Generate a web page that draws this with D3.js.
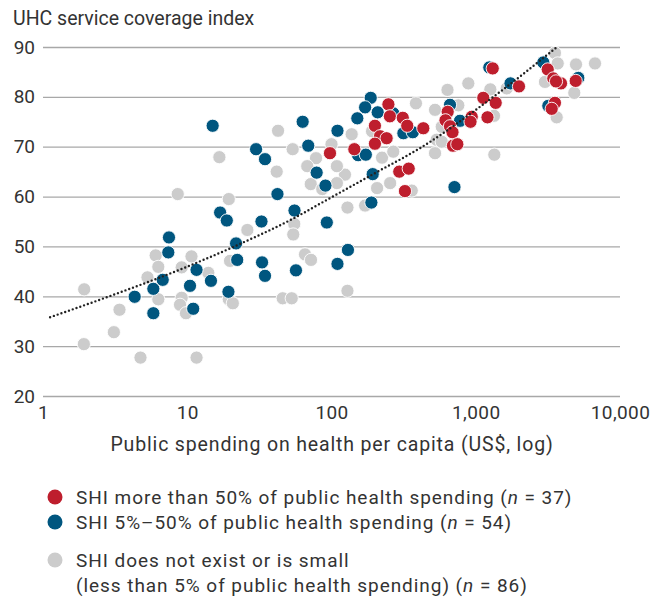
<!DOCTYPE html>
<html>
<head>
<meta charset="utf-8">
<script src="https://cdn.jsdelivr.net/npm/d3@7"></script>
<style>
  html, body { margin: 0; padding: 0; background: #fff; }
  svg text { font-family: Roboto, "Noto Sans", sans-serif; fill: #333; }
</style>
</head>
<body>
<svg id="chart" width="654" height="598"></svg>
<script>
// ---- data (US$ public health spending per capita, UHC index) ----
const greyPoints = [
  [1.93,41.4],[1.92,30.4],[3.39,37.3],[3.10,32.8],[4.74,27.7],[8.59,60.5],[6.04,48.2],[6.30,45.9],
  [5.30,43.8],[6.30,39.4],[9.15,45.8],[10.7,48.0],[9.15,39.7],[8.91,38.3],[9.8,36.6],[11.6,27.7],
  [14.0,44.7],[19.4,59.5],[16.7,67.9],[19.8,47.1],[26.1,53.3],[19.4,39.4],[20.7,38.6],[45.9,39.6],
  [53.0,39.6],[55.2,54.5],[54.3,52.4],[65.5,48.4],[72.1,47.3],[42.6,73.2],[53.8,69.5],[41.7,65.0],
  [78.1,67.7],[67.9,66.1],[71.8,62.5],[86.3,61.5],[124,64.4],[109,62.7],[129,57.8],[171,58.2],
  [207,61.7],[255,62.7],[129,41.1],[360,61.2],[100,70.5],[109,66.1],[138,72.5],[224,67.8],
  [268,69.0],[385,78.7],[191,73.1],[522,77.4],[757,78.3],[637,81.4],[888,82.7],[1262,81.5],
  [1639,81.7],[581,74.0],[536,71.4],[581,71.0],[522,68.7],[1345,68.4],[1338,76.2],[3540,88.8],
  [3700,86.7],[4955,86.5],[6710,86.7],[3020,83.0],[4820,80.8],[3640,75.9]
];
const bluePoints = [
  [4.32,39.9],[5.82,41.5],[5.82,36.6],[6.76,43.3],[7.39,48.8],[7.47,51.8],[10.45,42.1],[11.6,45.3],
  [11.0,37.5],[14.6,43.1],[16.9,56.8],[18.8,55.2],[19.3,40.9],[21.8,50.6],[22.2,47.3],[32.7,55.0],
  [33.0,46.8],[34.6,44.1],[42.2,60.5],[55.4,57.2],[56.7,45.2],[92.8,54.8],[15.0,74.2],[30.0,69.5],
  [34.6,67.5],[63.1,75.0],[69.0,70.2],[78.9,64.8],[90.8,62.2],[130,49.3],[110,46.5],[193,64.5],
  [189,58.8],[712,61.9],[187,79.8],[171,77.9],[209,76.9],[151,75.7],[268,76.7],[110,73.2],
  [315,72.7],[366,72.9],[153,68.3],[173,68.4],[663,78.4],[778,75.2],[1242,85.9],[1741,82.7],
  [2940,86.9],[5140,83.8],[3185,78.2]
];
const redPoints = [
  [97.6,68.7],[144,69.5],[248,78.5],[254,76.1],[312,75.8],[335,74.2],[200,74.2],[217,72.1],
  [241,71.7],[200,70.6],[295,65.0],[343,65.6],[323,61.1],[433,73.7],[639,77.0],[617,75.3],
  [663,74.1],[690,72.9],[695,70.2],[745,70.5],[938,76.0],[920,75.0],[1128,79.8],[1375,78.8],
  [1206,75.9],[1311,85.7],[1994,82.1],[3155,85.5],[3449,83.7],[3900,82.7],[4930,83.2],[3540,78.8],
  [3362,77.6],[3600,83.1]
];
const trendSpending = [1.12, 2.76, 9.9, 23.2, 54.3, 95, 206, 410, 1324, 3700];
const trendIndex    = [35.8, 39.8, 45.9, 50.5, 55.6, 59.5, 64.9, 69.7, 80.0, 90.1];
const xTicks = [1, 10, 100, 1000, 10000];
const yTicks = [20, 30, 40, 50, 60, 70, 80, 90];
const legendItems = [
  { color: "#be1e2d", lines: [["SHI more than 50% of public health spending (", "n", " = 37)"]] },
  { color: "#00567f", lines: [["SHI 5%\u201350% of public health spending (", "n", " = 54)"]] },
  { color: "#cccccc", lines: [["SHI does not exist or is small"], ["(less than 5% of public health spending) (", "n", " = 86)"]] }
];

// ---- chart ----
const svg = d3.select("#chart");
const x = d3.scaleLog().domain([1, 10000]).range([43, 620]);
const y = d3.scaleLinear().domain([20, 90]).range([396, 47]);

svg.append("text").attr("x", 13).attr("y", 25).attr("font-size", 19.5)
  .text("UHC service coverage index");

// y grid + labels
const yAxis = d3.axisLeft(y).tickValues(yTicks).tickSize(-(620 - 43)).tickFormat(d3.format("d")).tickPadding(8);
const gy = svg.append("g").attr("transform", "translate(43,0)").call(yAxis);
gy.select(".domain").remove();
gy.selectAll(".tick line").attr("stroke", "#a8a8a8").attr("stroke-width", 1.3);
gy.selectAll(".tick text").attr("font-size", 19).attr("fill", "#333").attr("x", -8);

// x labels
const xAxis = d3.axisBottom(x).tickValues(xTicks).tickSize(0).tickPadding(8)
  .tickFormat(d => d3.format(",")(d));
const gx = svg.append("g").attr("transform", "translate(0,398)").call(xAxis);
gx.select(".domain").remove();
gx.selectAll(".tick text").attr("font-size", 19).attr("fill", "#333").attr("letter-spacing", 0.4);

svg.append("text").attr("x", 332).attr("y", 451).attr("text-anchor", "middle")
  .attr("font-size", 19.5).attr("letter-spacing", 0.85)
  .text("Public spending on health per capita (US$, log)");

// points
function drawPts(data, color) {
  svg.append("g").selectAll("circle").data(data).join("circle")
    .attr("cx", d => x(d[0])).attr("cy", d => y(d[1])).attr("r", 6.6)
    .attr("fill", color).attr("stroke", "#fff").attr("stroke-width", 0.9);
}
drawPts(greyPoints, legendItems[2].color);
drawPts(bluePoints, legendItems[1].color);
drawPts(redPoints, legendItems[0].color);

// trend line
const trend = trendSpending.map((s, i) => [s, trendIndex[i]]);
svg.append("path").datum(trend)
  .attr("d", d3.line().x(d => x(d[0])).y(d => y(d[1])).curve(d3.curveMonotoneX))
  .attr("fill", "none").attr("stroke", "#222").attr("stroke-width", 2.4)
  .attr("stroke-linecap", "round").attr("stroke-dasharray", "0 4");

// legend
const legendY = [497, 522, 560];
legendItems.forEach((item, i) => {
  const g = svg.append("g");
  g.append("circle").attr("cx", 55).attr("cy", legendY[i]).attr("r", 7.5).attr("fill", item.color);
  item.lines.forEach((parts, j) => {
    const t = g.append("text").attr("x", 76).attr("y", legendY[i] + 6.5 + j * 25)
      .attr("font-size", 19).attr("letter-spacing", 0.95);
    parts.forEach((p, k) => {
      t.append("tspan").text(p).attr("font-style", (parts.length === 3 && k === 1) ? "italic" : null);
    });
  });
});
</script>
</body>
</html>
